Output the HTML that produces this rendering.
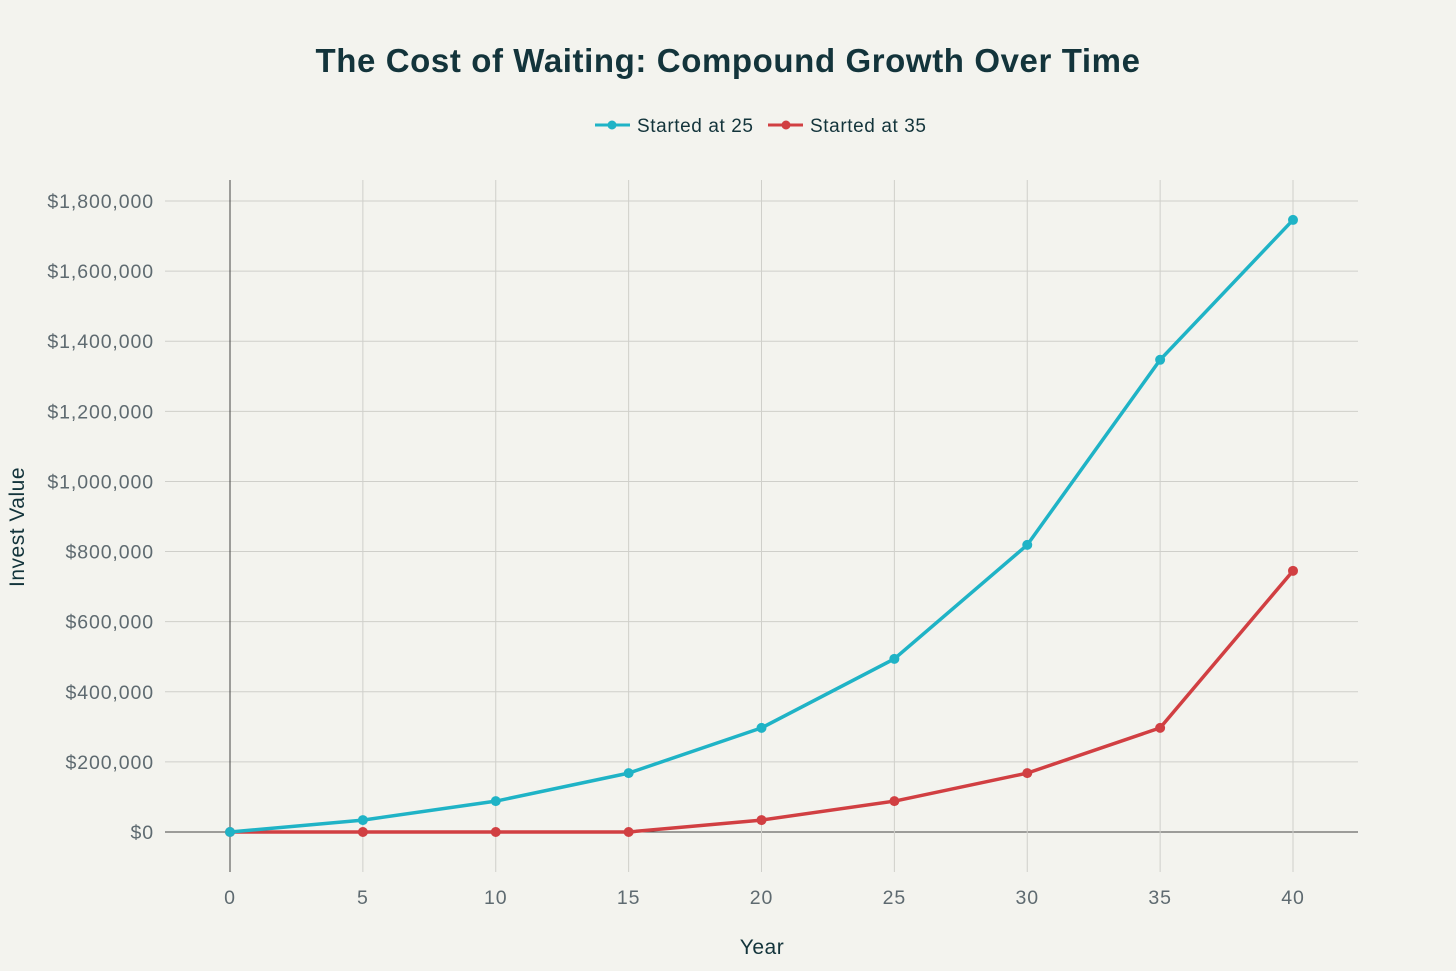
<!DOCTYPE html>
<html><head><meta charset="utf-8"><style>
body{margin:0;background:#f3f3ee;}
svg{display:block;font-family:"Liberation Sans",sans-serif;}
</style></head><body>
<svg id="chart" width="1456" height="971">
<rect width="1456" height="971" fill="#f3f3ee"/>
<text x="728" y="72" text-anchor="middle" font-size="33" font-weight="bold" letter-spacing="0.6" fill="#13343b">The Cost of Waiting: Compound Growth Over Time</text>
<g>
<g><line x1="595" y1="125" x2="630" y2="125" stroke="#1fb3c6" stroke-width="3"/><circle cx="612" cy="125" r="4.5" fill="#1fb3c6"/><text x="637" y="132" font-size="19" letter-spacing="0.6" fill="#13343b">Started at 25</text></g>
<g><line x1="768" y1="125" x2="803" y2="125" stroke="#d13f42" stroke-width="3"/><circle cx="786" cy="125" r="4.5" fill="#d13f42"/><text x="810" y="132" font-size="19" letter-spacing="0.6" fill="#13343b">Started at 35</text></g>
</g>
<g id="grid"></g><g id="axes"></g><g id="series"></g>
<text x="762" y="954" text-anchor="middle" font-size="21" letter-spacing="0.5" fill="#13343b">Year</text>
<text transform="translate(24,527) rotate(-90)" text-anchor="middle" font-size="21" letter-spacing="0.5" fill="#13343b">Invest Value</text>
</svg>
<script>
const years=[0,5,10,15,20,25,30,35,40];
const started25=[0,34000,88000,168000,297000,494000,819000,1347000,1746000];
const started35=[0,0,0,0,34000,88000,168000,297000,745000];
const yTicks=[0,200000,400000,600000,800000,1000000,1200000,1400000,1600000,1800000];
const xTicks=[0,5,10,15,20,25,30,35,40];
const NS="http://www.w3.org/2000/svg";
const X=v=>230+v*(1293-230)/40;
const Y=v=>832-v*(832-201)/1800000;
const grid=document.getElementById('grid'),axes=document.getElementById('axes'),ser=document.getElementById('series');
function mk(tag,attrs,parent){const e=document.createElementNS(NS,tag);for(const k in attrs)e.setAttribute(k,attrs[k]);parent.appendChild(e);return e;}
yTicks.forEach(t=>{
 const l=mk('line',{x1:165,x2:1358,y1:Y(t),y2:Y(t),stroke:t===0?'#444':'#cfcfca','stroke-width':1},grid);
 
 
 const tx=mk('text',{x:154,y:Y(t)+7,'text-anchor':'end','font-size':19.5,'letter-spacing':0.9,fill:'#5e6a70'},axes);
 tx.textContent='$'+t.toLocaleString('en-US');
 
 
});
xTicks.forEach(t=>{
 const l=mk('line',{x1:X(t),x2:X(t),y1:180,y2:872,stroke:t===0?'#444':'#cfcfca','stroke-width':1},grid);
 
 
 const tx=mk('text',{x:X(t),y:904,'text-anchor':'middle','font-size':19.5,'letter-spacing':0.9,fill:'#5e6a70'},axes);
 tx.textContent=t;
 
 
});
function draw(vals,color,name){
 const p=mk('polyline',{points:years.map((y,i)=>X(y)+','+Y(vals[i])).join(' '),fill:'none',stroke:color,'stroke-width':3.5,'stroke-linejoin':'round'},ser);
 
 
 years.forEach((y,i)=>{
  const c=mk('circle',{cx:X(y),cy:Y(vals[i]),r:5,fill:color},ser);
  
  
 });
}
draw(started35,'#d13f42','started-35');
draw(started25,'#1fb3c6','started-25');
</script>
</body></html>
